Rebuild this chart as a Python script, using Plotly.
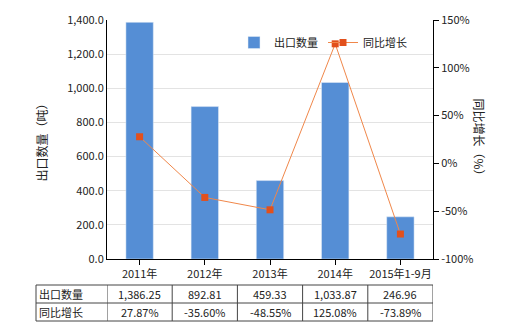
import plotly.graph_objects as go

categories = ["2011年", "2012年", "2013年", "2014年", "2015年1-9月"]
export_qty = [1386.25, 892.81, 459.33, 1033.87, 246.96]
yoy_growth = [27.87, -35.60, -48.55, 125.08, -73.89]
row_labels = ["出口数量", "同比增长"]
left_ticks = [0, 200, 400, 600, 800, 1000, 1200, 1400]
right_ticks = [-100, -50, 0, 50, 100, 150]

FONT = "Noto Sans CJK SC, Microsoft YaHei, sans-serif"
BAR = "#558ED5"
LINE = "#F0874A"
MARK = "#E2501C"

fig = go.Figure()
fig.add_trace(go.Bar(x=categories, y=export_qty, name="出口数量",
                     marker=dict(color=BAR), width=0.42, yaxis="y"))
fig.add_trace(go.Scatter(x=categories, y=yoy_growth, name="同比增长", yaxis="y2",
                         mode="lines+markers",
                         line=dict(color=LINE, width=1),
                         marker=dict(symbol="square", size=7, color=MARK)))

W, H = 520, 330
L, R, T, B = 107, 433, 20, 259
pw, ph = R - L, B - T

def px(xp):
    return (xp - L) / pw

def py(yp):
    return (B - yp) / ph

fig.update_layout(
    width=W, height=H,
    margin=dict(l=L, r=W - R, t=T, b=H - B),
    paper_bgcolor="white", plot_bgcolor="white",
    font=dict(family=FONT, size=11, color="#222"),
    showlegend=True,
    legend=dict(orientation="h", x=px(234), y=py(28), xanchor="left", yanchor="top",
                bgcolor="rgba(0,0,0,0)", font=dict(size=11), itemwidth=30,
                traceorder="normal"),
    xaxis=dict(type="category", showline=True, linecolor="black", linewidth=1,
               ticks="outside", ticklen=5, tickcolor="black", showgrid=False,
               tickfont=dict(size=11), range=[-0.5, 4.5]),
    yaxis=dict(range=[0, 1400], tickvals=left_ticks, tickformat=",.1f",
               showline=True, linecolor="black", linewidth=1, ticks="",
               showgrid=True, gridcolor="#e3e3e3", gridwidth=1, zeroline=False,
               tickfont=dict(size=11)),
    yaxis2=dict(range=[-100, 150], tickmode="array", tickvals=right_ticks,
                ticktext=[f"{v}%" for v in right_ticks],
                overlaying="y", side="right", showline=True, linecolor="black",
                linewidth=1, ticks="outside", ticklen=5, tickcolor="black",
                showgrid=False, zeroline=False, tickfont=dict(size=11)),
)

annotations = []
annotations.append(dict(text="出口数量（吨）", xref="paper", yref="paper",
                        x=px(30), y=py(140), textangle=-90, showarrow=False,
                        font=dict(size=12)))
annotations.append(dict(text="同比增长（%）", xref="paper", yref="paper",
                        x=px(490), y=py(140), textangle=90, showarrow=False,
                        font=dict(size=12)))

# table
shapes = []
row_tops = [285, 303]
row_h = 18
tbl_left = px(36)
tbl_bottom = py(row_tops[-1] + row_h)
tbl_top = py(row_tops[0])
line_style = dict(color="#444", width=1)
for yp in [285, 303, 321]:
    shapes.append(dict(type="line", xref="paper", yref="paper", x0=tbl_left, x1=1,
                       y0=py(yp), y1=py(yp), line=line_style))
shapes.append(dict(type="line", xref="paper", yref="paper", x0=tbl_left, x1=tbl_left,
                   y0=tbl_top, y1=tbl_bottom, line=line_style))
for i in range(len(categories) + 1):
    xb = i - 0.5
    shapes.append(dict(type="line", xref="x", yref="paper", x0=xb, x1=xb,
                       y0=tbl_top, y1=tbl_bottom, line=line_style))

rows = [[f"{v:,.2f}" for v in export_qty], [f"{v:.2f}%" for v in yoy_growth]]
for r, (lab, vals) in enumerate(zip(row_labels, rows)):
    yc = py(row_tops[r] + row_h / 2)
    annotations.append(dict(text=lab, xref="paper", yref="paper", x=px(37), y=yc,
                            xanchor="left", yanchor="middle", showarrow=False,
                            font=dict(size=11)))
    for i, v in enumerate(vals):
        annotations.append(dict(text=v, xref="x", yref="paper", x=i, y=yc,
                                xanchor="center", yanchor="middle", showarrow=False,
                                font=dict(size=11)))

fig.update_layout(shapes=shapes, annotations=annotations)
fig.write_html("out.html")
